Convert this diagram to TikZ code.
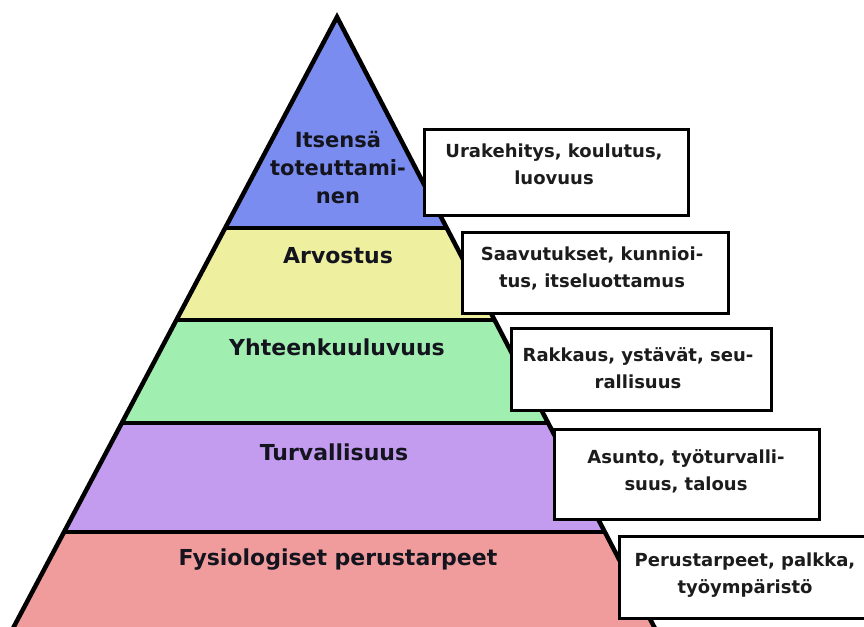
\documentclass[tikz,border=0pt]{standalone}
\usepackage{fontspec}
\setmainfont{DejaVu Sans}
\definecolor{cblue}{HTML}{7B8CF0}
\definecolor{cyellow}{HTML}{EEF0A0}
\definecolor{cgreen}{HTML}{A0EEB0}
\definecolor{cpurple}{HTML}{C39BEF}
\definecolor{cpink}{HTML}{F09C9C}
\definecolor{ctext}{HTML}{14141E}
\definecolor{btext}{HTML}{1C1C1C}
\begin{document}
\begin{tikzpicture}[x=1pt,y=-1pt,
  edge/.style={line width=4.5pt,line join=miter,line cap=butt},
  level/.style={font=\bfseries\fontsize{22}{28}\selectfont,text=ctext,anchor=base,inner sep=0pt},
  infobox/.style={draw=black,line width=3pt,fill=white,anchor=north west,inner sep=0pt},
  infotext/.style={font=\bfseries\fontsize{18}{27}\selectfont,text=btext,anchor=base,align=center,inner sep=0pt}]
\useasboundingbox (0,0) rectangle (864,626);
\begin{scope}
\clip (0,0) rectangle (864,626);
% apex (337,17); left slope 0.53, right slope 0.52
\fill[cblue]   (337,17) -- (446.7,228) -- (225.2,228) -- cycle;
\fill[cyellow] (225.2,228) -- (446.7,228) -- (494.6,320) -- (176.4,320) -- cycle;
\fill[cgreen]  (176.4,320) -- (494.6,320) -- (548.1,423) -- (121.8,423) -- cycle;
\fill[cpurple] (121.8,423) -- (548.1,423) -- (604.8,532) -- (64.05,532) -- cycle;
\fill[cpink]   (64.05,532) -- (604.8,532) -- (661,640) -- (6.8,640) -- cycle;
\draw[edge] (225.2,228) -- (446.7,228);
\draw[edge] (176.4,320) -- (494.6,320);
\draw[edge] (121.8,423) -- (548.1,423);
\draw[edge] (64.05,532) -- (604.8,532);
\draw[edge] (6.8,640) -- (337,17) -- (661,640);
\end{scope}
% pyramid labels
\node[level,font=\bfseries\fontsize{21}{28}\selectfont] (l1a) at (338,147) {Itsensä};
\node[level,font=\bfseries\fontsize{21}{28}\selectfont] (l1b) at (338,175) {toteuttami-};
\node[level,font=\bfseries\fontsize{21}{28}\selectfont] (l1c) at (338,203) {nen};
\node[level] (l2) at (338,263) {Arvostus};
\node[level] (l3) at (337,355) {Yhteenkuuluvuus};
\node[level] (l4) at (334,460) {Turvallisuus};
\node[level] (l5) at (338,565) {Fysiologiset perustarpeet};
% boxes
\node[infobox,minimum width=264pt,minimum height=86pt] (b1) at (423,128) {};
\node[infobox,minimum width=266pt,minimum height=81pt] (b2) at (461,231) {};
\node[infobox,minimum width=260pt,minimum height=82pt] (b3) at (510,327) {};
\node[infobox,minimum width=265pt,minimum height=90pt] (b4) at (553,428) {};
\node[infobox,minimum width=270pt,minimum height=82pt] (b5) at (618,535) {};
\node[infotext] (t1) at (554,184) {Urakehitys, koulutus,\\luovuus};
\node[infotext] (t2) at (592,287) {Saavutukset, kunnioi-\\tus, itseluottamus};
\node[infotext] (t3) at (638,388) {Rakkaus, ystävät, seu-\\rallisuus};
\node[infotext] (t4) at (686,490) {Asunto, työturvalli-\\suus, talous};
\node[infotext] (t5) at (745,593) {Perustarpeet, palkka,\\työympäristö};
\end{tikzpicture}
\end{document}
